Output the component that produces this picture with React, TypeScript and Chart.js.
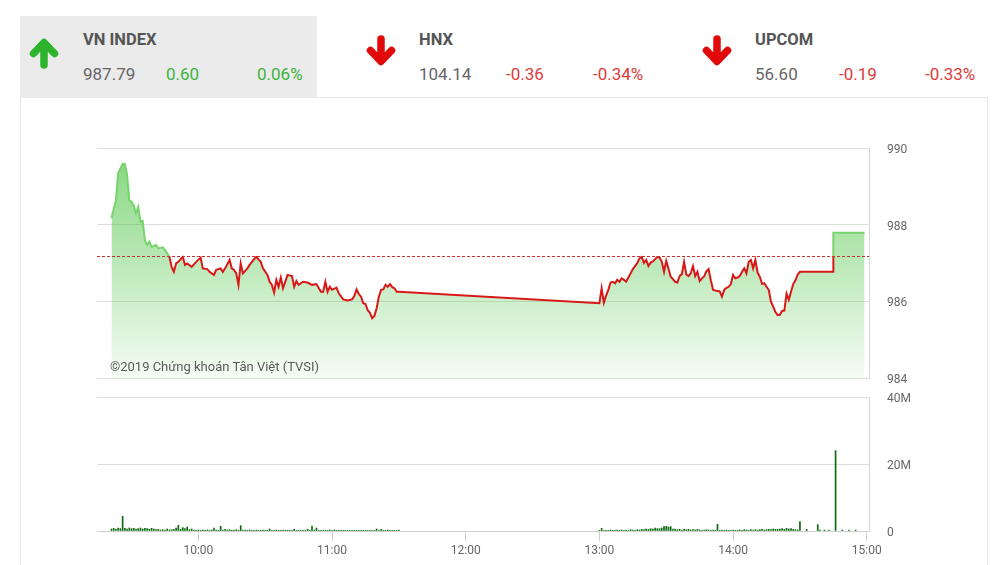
import React, { useEffect, useRef } from "react";
import { Chart, registerables } from "chart.js";

Chart.register(...registerables);

// ---- Index summary ----
const indexNames = ["VN INDEX", "HNX", "UPCOM"];
const indexValues = ["987.79", "104.14", "56.60"];
const indexChanges = ["0.60", "-0.36", "-0.19"];
const indexPercents = ["0.06%", "-0.34%", "-0.33%"];

// ---- Intraday VN-Index ----
const PREV_CLOSE = 987.19;

const priceTimes = [
  "09:21", "09:23", "09:24", "09:26", "09:27", "09:28", "09:29", "09:30", "09:31", "09:32",
  "09:33", "09:34", "09:35", "09:36", "09:37", "09:38", "09:39", "09:41", "09:42", "09:44",
  "09:45", "09:46", "09:47", "09:48", "09:49", "09:50", "09:51", "09:53", "09:54", "09:55",
  "09:57", "09:59", "10:01", "10:02", "10:04", "10:05", "10:07", "10:08", "10:10", "10:11",
  "10:12", "10:14", "10:15", "10:16", "10:17", "10:18", "10:19", "10:20", "10:22", "10:23",
  "10:25", "10:26", "10:28", "10:29", "10:31", "10:32", "10:33", "10:34", "10:35", "10:36",
  "10:37", "10:38", "10:39", "10:40", "10:42", "10:43", "10:44", "10:45", "10:47", "10:49",
  "10:51", "10:53", "10:55", "10:56", "10:57", "10:58", "10:59", "11:00", "11:02", "11:03",
  "11:05", "11:07", "11:09", "11:10", "11:11", "11:12", "11:13", "11:14", "11:15", "11:16",
  "11:17", "11:18", "11:19", "11:20", "11:21", "11:22", "11:23", "11:24", "11:25", "11:26",
  "11:27", "11:28", "11:29", "11:30",
  "13:00", "13:01", "13:02", "13:03", "13:04", "13:05", "13:06", "13:07", "13:08", "13:09",
  "13:10", "13:11", "13:12", "13:13", "13:14", "13:15", "13:16", "13:17", "13:18", "13:19",
  "13:20", "13:21", "13:22", "13:23", "13:24", "13:25", "13:26", "13:27", "13:28", "13:29",
  "13:30", "13:31", "13:32", "13:33", "13:34", "13:35", "13:36", "13:37", "13:38", "13:39",
  "13:40", "13:41", "13:42", "13:43", "13:44", "13:45", "13:46", "13:47", "13:48", "13:49",
  "13:50", "13:51", "13:52", "13:53", "13:54", "13:55", "13:56", "13:57", "13:58", "13:59",
  "14:00", "14:01", "14:02", "14:03", "14:04", "14:05", "14:06", "14:07", "14:08", "14:09",
  "14:10", "14:11", "14:12", "14:13", "14:14", "14:15", "14:16", "14:17", "14:18", "14:19",
  "14:20", "14:21", "14:22", "14:23", "14:24", "14:25", "14:26", "14:27", "14:28", "14:29",
  "14:30", "14:45", "14:45", "14:59",
];

const priceValues = [
  988.17, 988.64, 989.35, 989.58, 989.58, 989.3, 988.64, 988.6, 988.5, 988.3,
  988.46, 988.08, 988.1, 987.6, 987.47, 987.56, 987.42, 987.47, 987.38, 987.41,
  987.34, 987.25, 987.16, 986.9, 986.77, 986.99, 987.03, 987.16, 986.95, 986.99,
  986.9, 987.03, 987.14, 986.86, 986.84, 986.77, 986.69, 986.82, 986.86, 986.77,
  986.86, 987.08, 986.86, 986.82, 986.73, 986.43, 986.99, 986.73, 986.86, 986.95,
  987.1, 987.16, 987.03, 986.86, 986.69, 986.51, 986.43, 986.23, 986.56, 986.38,
  986.62, 986.34, 986.51, 986.69, 986.66, 986.38, 986.53, 986.43, 986.51, 986.49,
  986.43, 986.45, 986.25, 986.25, 986.51, 986.25, 986.38, 986.3, 986.36, 986.21,
  986.05, 986.02, 986.05, 986.14, 986.31, 986.19, 986.12, 985.95, 985.93, 985.77,
  985.7, 985.56, 985.62, 985.82, 986.12, 986.3, 986.31, 986.43, 986.38, 986.45,
  986.37, 986.34, 986.25, 986.25,
  985.95, 986.34, 985.96, 986.15, 986.3, 986.49, 986.51, 986.47, 986.56, 986.51,
  986.6, 986.56, 986.51, 986.62, 986.73, 986.84, 986.92, 987.0, 987.12, 987.16,
  987.0, 987.08, 986.92, 987.01, 987.04, 987.1, 987.16, 987.14, 987.03, 986.77,
  987.06, 986.85, 986.64, 986.58, 986.51, 986.49, 986.66, 986.71, 987.03, 986.7,
  986.66, 986.73, 986.92, 986.66, 986.77, 986.53, 986.6, 986.65, 986.78, 986.84,
  986.55, 986.3, 986.28, 986.27, 986.26, 986.12, 986.3, 986.35, 986.38, 986.45,
  986.69, 986.6, 986.62, 986.66, 986.77, 986.86, 986.73, 987.03, 987.08, 986.86,
  987.08, 986.75, 986.64, 986.45, 986.47, 986.38, 986.3, 985.99, 985.86, 985.72,
  985.64, 985.65, 985.75, 985.76, 986.2, 986.04, 986.25, 986.45, 986.55, 986.7,
  986.77, 986.77, 987.79, 987.79,
];

// ---- Matched volume per minute (millions of shares) ----
const volumeMorningStart = "09:21";
const volumeMorning = [
  0.6, 0.8, 0.5, 0.9, 0.7, 4.4, 0.8, 0.6, 0.9, 0.7,
  0.8, 0.6, 0.7, 0.9, 0.6, 0.8, 0.7, 0.5, 0.8, 0.6,
  0.4, 0.5, 0.3, 0.4, 0.3, 0.6, 0.3, 0.4, 0.5, 0.9,
  1.7, 0.5, 1.0, 0.7, 1.2, 0.4, 0.6, 0.3, 0.2, 0.3,
  0.2, 0.3, 0.2, 0.3, 0.2, 0.3, 0.9, 0.3, 0.2, 1.4,
  0.3, 0.5, 0.3, 0.4, 0.2, 0.3, 0.4, 0.2, 1.6, 0.3,
  0.3, 0.2, 0.3, 0.2, 0.2, 0.3, 0.2, 0.2, 0.3, 0.2,
  0.2, 0.6, 0.2, 0.2, 0.3, 0.2, 0.2, 0.3, 0.2, 0.2,
  0.2, 0.2, 0.5, 0.2, 0.2, 0.3, 0.2, 0.2, 0.5, 0.2,
  1.5, 0.3, 0.9, 0.2, 0.2, 0.3, 0.2, 0.2, 0.3, 0.2,
  0.3, 0.2, 0.2, 0.1, 0.2, 0.1, 0.2, 0.1, 0.2, 0.1,
  0.2, 0.1, 0.2, 0.2, 0.1, 0.2, 0.1, 0.2, 0.2, 0.6,
  0.2, 0.5, 0.1, 0.2, 0.3, 0.2, 0.1, 0.2, 0.2, 0.3,
];
const volumeAfternoonStart = "13:00";
const volumeAfternoon = [
  0.2, 0.8, 0.1, 0.2, 0.1, 0.3, 0.1, 0.2, 0.3, 0.2,
  0.3, 0.2, 0.3, 0.2, 0.4, 0.3, 0.2, 0.4, 0.3, 0.5,
  0.4, 0.6, 0.5, 0.7, 0.6, 0.9, 0.7, 0.7, 0.9, 1.3,
  1.4, 1.2, 1.3, 0.6, 0.6, 0.4, 0.5, 0.3, 0.5, 0.4,
  0.5, 0.3, 0.4, 0.3, 0.5, 0.3, 0.2, 0.3, 0.4, 0.3,
  0.2, 0.3, 0.2, 2.0, 0.2, 0.3, 0.2, 0.3, 0.2, 0.2,
  0.3, 0.2, 0.2, 0.3, 0.2, 0.4, 0.3, 0.2, 0.4, 0.3,
  0.4, 0.3, 0.4, 0.5, 0.3, 0.4, 0.5, 0.4, 0.6, 0.5,
  0.5, 0.6, 0.7, 0.5, 0.8, 0.6, 0.7, 0.5, 0.4, 0.3,
  2.8,
];
const volumeCloseTimes = ["14:33", "14:38", "14:39", "14:41", "14:43", "14:46", "14:49", "14:52", "14:55"];
const volumeClose = [0.5, 1.9, 0.3, 0.3, 0.3, 24, 0.3, 0.3, 0.3];

// ---- Axes ----
const timeTicks = ["10:00", "11:00", "12:00", "13:00", "14:00", "15:00"];
const priceTicks = [984, 986, 988, 990];
const volumeTicks = [0, 20, 40];
const X_MIN = 554.5;
const X_MAX = 901;

const toMin = (t: string) => {
  const [h, m] = t.split(":").map(Number);
  return h * 60 + m;
};
const fmtTime = (v: number) => `${Math.floor(v / 60)}:${String(Math.round(v % 60)).padStart(2, "0")}`;

const GREEN_LINE = "rgb(118, 212, 108)";
const RED_LINE = "#d81818";
const AXIS_TEXT = "#666";
const GRID = "#dedede";

Chart.defaults.font.family = "Roboto, 'Noto Sans', sans-serif";

function volumePoints() {
  const pts: { x: number; y: number }[] = [];
  const m0 = toMin(volumeMorningStart);
  volumeMorning.forEach((v, i) => pts.push({ x: m0 + i, y: v }));
  const a0 = toMin(volumeAfternoonStart);
  volumeAfternoon.forEach((v, i) => pts.push({ x: a0 + i, y: v }));
  volumeCloseTimes.forEach((t, i) => pts.push({ x: toMin(t), y: volumeClose[i] }));
  return pts;
}

const prevClosePlugin = {
  id: "prevCloseLine",
  afterDatasetsDraw(chart: any) {
    const { ctx, chartArea, scales } = chart;
    const y = Math.round(scales.y.getPixelForValue(PREV_CLOSE)) + 0.5;
    ctx.save();
    ctx.strokeStyle = "#c23232";
    ctx.lineWidth = 1;
    ctx.setLineDash([3, 2]);
    ctx.beginPath();
    ctx.moveTo(chartArea.left, y);
    ctx.lineTo(chartArea.right, y);
    ctx.stroke();
    ctx.restore();
  },
};

// right-hand value axis: labels sit 18px off the plot edge without extra vertical padding
const rightAxis = (ticks: number[], label: (v: number) => string) => ({
  position: "right",
  afterBuildTicks: (s: any) => {
    s.ticks = ticks.map((v) => ({ value: v }));
  },
  afterFit: (s: any) => {
    s.width = 61;
    s.paddingTop = 0;
    s.paddingBottom = 0;
  },
  ticks: {
    color: AXIS_TEXT,
    font: { size: 12 },
    padding: 0,
    labelOffset: 2,
    callback: (v: any) => label(Number(v)),
  },
  grid: { color: GRID, drawTicks: true, tickLength: 18, tickColor: "rgba(0,0,0,0)" },
  border: { display: true, color: "#d6d6d6" },
});

function PriceVolumeCharts() {
  const priceRef = useRef<HTMLCanvasElement>(null);
  const volRef = useRef<HTMLCanvasElement>(null);

  useEffect(() => {
    const priceChart = new Chart(priceRef.current!, {
      type: "line",
      data: {
        datasets: [
          {
            data: priceTimes.map((t, i) => ({ x: toMin(t), y: priceValues[i] })),
            borderWidth: 2,
            pointRadius: 0,
            tension: 0,
            fill: "start",
            borderColor: (c: any) => {
              const chart = c.chart;
              const a = chart.chartArea;
              if (!a) return RED_LINE;
              const yRef = chart.scales.y.getPixelForValue(PREV_CLOSE);
              const f = Math.min(1, Math.max(0, (yRef - a.top) / (a.bottom - a.top)));
              const g = chart.ctx.createLinearGradient(0, a.top, 0, a.bottom);
              g.addColorStop(0, GREEN_LINE);
              g.addColorStop(f, GREEN_LINE);
              g.addColorStop(f, RED_LINE);
              g.addColorStop(1, RED_LINE);
              return g;
            },
            backgroundColor: (c: any) => {
              const chart = c.chart;
              const a = chart.chartArea;
              if (!a) return "rgba(60,190,50,0.3)";
              const g = chart.ctx.createLinearGradient(0, a.top, 0, a.bottom);
              g.addColorStop(0, "rgba(60,190,50,0.64)");
              g.addColorStop(1, "rgba(60,190,50,0.05)");
              return g;
            },
          },
        ],
      },
      options: {
        animation: false,
        responsive: false,
        events: [],
        layout: { padding: { top: 8, bottom: 8, left: 0, right: 0 } },
        plugins: { legend: { display: false }, tooltip: { enabled: false } },
        scales: {
          x: { type: "linear", min: X_MIN, max: X_MAX, display: false },
          y: { ...rightAxis(priceTicks, (v) => String(v)), min: 984, max: 990 },
        },
      },
      plugins: [prevClosePlugin],
    } as any);

    const volChart = new Chart(volRef.current!, {
      type: "bar",
      data: {
        datasets: [
          {
            data: volumePoints(),
            backgroundColor: "#0c6a0e",
            barThickness: 1,
          },
        ],
      },
      options: {
        animation: false,
        responsive: false,
        events: [],
        layout: { padding: { top: 8, bottom: 0, left: 0, right: 0 } },
        plugins: { legend: { display: false }, tooltip: { enabled: false } },
        scales: {
          x: {
            type: "linear",
            min: X_MIN,
            max: X_MAX,
            offset: false,
            afterBuildTicks: (s: any) => {
              s.ticks = timeTicks.map((t) => ({ value: toMin(t) }));
            },
            afterFit: (s: any) => {
              s.height = 34;
            },
            ticks: {
              color: AXIS_TEXT,
              font: { size: 12 },
              padding: 3,
              maxRotation: 0,
              autoSkip: false,
              callback: (v: any) => fmtTime(Number(v)),
            },
            grid: {
              offset: false,
              drawOnChartArea: false,
              drawTicks: true,
              tickLength: 10,
              color: "#cfcfcf",
            },
            border: { display: true, color: "#cfcfcf" },
          },
          y: {
            ...rightAxis(volumeTicks, (v) => (v === 0 ? "0" : `${v}M`)),
            min: 0,
            max: 40,
          },
        },
      },
    } as any);

    return () => {
      priceChart.destroy();
      volChart.destroy();
    };
  }, []);

  return (
    <>
      <canvas
        ref={priceRef}
        width={833}
        height={246}
        style={{ position: "absolute", left: 97, top: 140, width: 833, height: 246 }}
      />
      <canvas
        ref={volRef}
        width={833}
        height={176}
        style={{ position: "absolute", left: 97, top: 389, width: 833, height: 176 }}
      />
      <div
        style={{
          position: "absolute",
          left: 110,
          top: 359,
          fontSize: 13,
          lineHeight: "16px",
          color: "#5a5a5a",
          whiteSpace: "nowrap",
        }}
      >
        ©2019 Chứng khoán Tân Việt (TVSI)
      </div>
    </>
  );
}

function Arrow({ up, left, top }: { up: boolean; left: number; top: number }) {
  const color = up ? "#2cb52c" : "#e10a0a";
  return (
    <svg
      width={34}
      height={34}
      viewBox="0 0 34 34"
      style={{ position: "absolute", left, top, transform: up ? undefined : "rotate(180deg)" }}
    >
      <path
        d="M17 29 V7 M6.5 17.5 L17 6.5 L27.5 17.5"
        stroke={color}
        strokeWidth={7.5}
        fill="none"
        strokeLinecap="round"
        strokeLinejoin="round"
      />
    </svg>
  );
}

const blockLeft = [20, 356, 692];
const valueOffsets = [[63, 146, 237], [63, 150, 237], [63, 147, 233]];

export default function App() {
  return (
    <div
      style={{
        position: "absolute",
        left: 0,
        top: 0,
        width: 1004,
        height: 565,
        overflow: "hidden",
        background: "#fff",
        fontFamily: "Roboto, 'Noto Sans', sans-serif",
      }}
    >
      {/* card */}
      <div
        style={{
          position: "absolute",
          left: 20,
          top: 97,
          width: 968,
          height: 500,
          boxSizing: "border-box",
          border: "1px solid #e6e6e6",
          background: "#fff",
        }}
      />
      {/* highlighted index tab */}
      <div style={{ position: "absolute", left: 20, top: 16, width: 297, height: 82, background: "#ebebeb" }} />

      {indexNames.map((name, i) => {
        const up = !indexChanges[i].startsWith("-");
        const col = up ? "#3cb43c" : "#dd3b3b";
        const base = blockLeft[i];
        const offs = valueOffsets[i];
        return (
          <React.Fragment key={name}>
            <Arrow up={up} left={base + (up ? 7 : 8)} top={up ? 36 : 34} />
            <div
              style={{
                position: "absolute",
                left: base + offs[0],
                top: 31,
                fontSize: 16.5,
                lineHeight: "17px",
                fontWeight: 700,
                color: "#555",
                whiteSpace: "nowrap",
              }}
            >
              {name}
            </div>
            {[indexValues[i], indexChanges[i], indexPercents[i]].map((txt, j) => (
              <div
                key={j}
                style={{
                  position: "absolute",
                  left: base + offs[j],
                  top: 66,
                  fontSize: 17,
                  lineHeight: "17px",
                  color: j === 0 ? "#666" : col,
                  whiteSpace: "nowrap",
                }}
              >
                {txt}
              </div>
            ))}
          </React.Fragment>
        );
      })}

      <PriceVolumeCharts />
    </div>
  );
}
